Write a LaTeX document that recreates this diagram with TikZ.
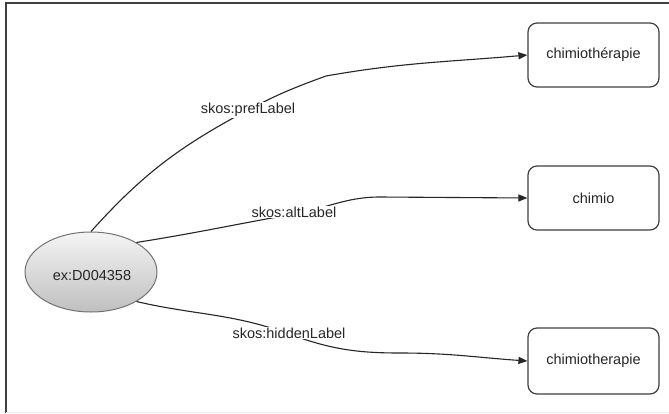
\documentclass[tikz,border=0pt]{standalone}
\usepackage{fontspec}
\setmainfont{Liberation Sans}
\usetikzlibrary{shapes.geometric,arrows.meta}
\begin{document}
\begin{tikzpicture}[x=1pt,y=-1pt,
  every node/.style={font=\fontsize{14.5}{16}\selectfont, text=black!85},
  concept/.style={ellipse, draw=black!55, line width=1pt, minimum width=132pt, minimum height=80pt, top color=gray!8, bottom color=gray!50, inner sep=0pt},
  litbox/.style={draw=black!75, line width=1.2pt, rounded corners=9pt, minimum width=131pt, minimum height=64pt, fill=white},
  rel/.style={draw=black!85, line width=1.1pt},
  relarrow/.style={rel, -{Triangle[length=9pt,width=7pt]}},
  lbl/.style={fill=white, inner sep=1pt}
]
\useasboundingbox (0,0) rectangle (669,413);
\fill[white] (0,0) rectangle (669,413);
% frame
\draw[line width=1.5pt, black!75] (6,413) -- (6,3) -- (669,3);
\draw[line width=0.8pt, gray!15] (6,412) -- (669,412);

\node[concept] (e) at (91,272) {};
\node at (92,276) (etext) {ex:D004358};
\node[litbox] (b1) at (593.5,55) {chimiothérapie};
\node[litbox] (b2) at (593.5,198) {chimio};
\node[litbox, minimum height=66pt] (b3) at (593.5,361) {chimiotherapie};

\coordinate (k1) at (326,76);
\coordinate (k2) at (380,197);
\coordinate (k3) at (400,353);

\draw[relarrow] (e.north) to[out=48,in=208] (248,110) to[out=28,in=200] (k1) to[out=10,in=185] (b1.west);
\draw[relarrow] (e.33) to[out=9,in=190] (294,214) to[out=10,in=180] (k2) -- (b2.west);
\draw[relarrow] (e.-33) to[out=-13,in=160] (289,334) to[out=-20,in=180] (k3) to[out=0,in=176] (b3.west);

\node[lbl] (pl) at (248,110) {skos:prefLabel};
\node[lbl] (al) at (294,212) {skos:altLabel};
\node[lbl] (hl) at (289,333) {skos:hiddenLabel};
\end{tikzpicture}
\end{document}
